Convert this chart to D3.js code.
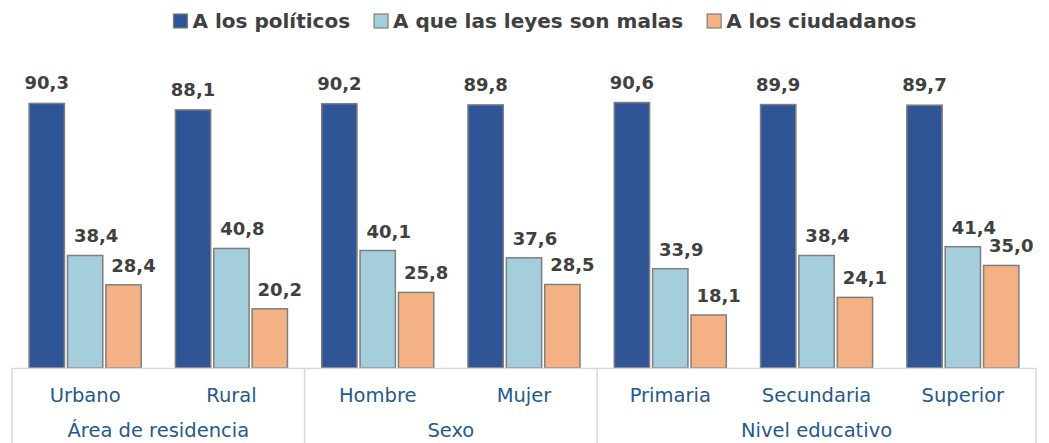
<!DOCTYPE html>
<html>
<head>
<meta charset="utf-8">
<script src="https://cdn.jsdelivr.net/npm/d3@7"></script>
<style>
  html, body { margin: 0; padding: 0; background: #fff; }
  svg { display: block; }
</style>
</head>
<body>
<svg id="chart" width="1049" height="443"></svg>
<script>
const categories = ["Urbano", "Rural", "Hombre", "Mujer", "Primaria", "Secundaria", "Superior"];
const groups = ["Área de residencia", "Sexo", "Nivel educativo"];
const groupCategories = [["Urbano", "Rural"], ["Hombre", "Mujer"], ["Primaria", "Secundaria", "Superior"]];
const seriesNames = ["A los políticos", "A que las leyes son malas", "A los ciudadanos"];
const politicos = [90.3, 88.1, 90.2, 89.8, 90.6, 89.9, 89.7];
const leyesMalas = [38.4, 40.8, 40.1, 37.6, 33.9, 38.4, 41.4];
const ciudadanos = [28.4, 20.2, 25.8, 28.5, 18.1, 24.1, 35.0];
const seriesValues = [politicos, leyesMalas, ciudadanos];

const colors = ["#2F5597", "#A5CEDC", "#F4B183"];
const labelDx = [0, 11, 10];
const fmt = v => d3.format(".1f")(v).replace(".", ",");

const svg = d3.select("#chart");
const left = 12, right = 1036, baseY = 368, topY = 75;

const x = d3.scaleBand().domain(categories).range([left, right])
  .paddingInner(0.234).paddingOuter(0.117);
const xs = d3.scaleBand().domain(seriesNames).range([0, x.bandwidth()]).paddingInner(0.08);
const y = d3.scaleLinear().domain([0, 100]).range([baseY, topY]);

// Bars
seriesNames.forEach((s, si) => {
  const g = svg.append("g");
  g.selectAll("rect").data(categories).join("rect")
    .attr("x", c => x(c) + xs(s))
    .attr("y", (c, i) => y(seriesValues[si][i]))
    .attr("width", xs.bandwidth())
    .attr("height", (c, i) => y(0) - y(seriesValues[si][i]))
    .attr("fill", colors[si])
    .attr("stroke", "#7f7f7f")
    .attr("stroke-width", 1.5);
  g.selectAll("text").data(categories).join("text")
    .attr("x", c => x(c) + xs(s) + xs.bandwidth() / 2 + labelDx[si])
    .attr("y", (c, i) => y(seriesValues[si][i]) - (si === 0 ? 14 : 13))
    .attr("text-anchor", "middle")
    .attr("font-family", "DejaVu Sans, Verdana, sans-serif")
    .attr("font-weight", "bold")
    .attr("font-size", "18px")
    .attr("fill", "#404040")
    .text((c, i) => fmt(seriesValues[si][i]));
});

// Multi-level category axis
const axis = svg.append("g").attr("stroke", "#d9d9d9").attr("stroke-width", 1.5);
axis.append("line").attr("x1", left).attr("x2", right).attr("y1", baseY + 0.5).attr("y2", baseY + 0.5);
const step = x.step();
const bounds = [left];
let idx = 0;
groupCategories.forEach(gc => { idx += gc.length; bounds.push(left + idx * step); });
bounds.forEach(bx => {
  axis.append("line").attr("x1", bx).attr("x2", bx).attr("y1", baseY).attr("y2", 443);
});

svg.append("g").selectAll("text").data(categories).join("text")
  .attr("x", c => x(c) + x.bandwidth() / 2)
  .attr("y", 402)
  .attr("text-anchor", "middle")
  .attr("font-family", "DejaVu Sans, Verdana, sans-serif")
  .attr("font-size", "19.5px")
  .attr("fill", "#255A8C")
  .text(c => c);

svg.append("g").selectAll("text").data(groups).join("text")
  .attr("x", (g, i) => (bounds[i] + bounds[i + 1]) / 2)
  .attr("y", 437)
  .attr("text-anchor", "middle")
  .attr("font-family", "DejaVu Sans, Verdana, sans-serif")
  .attr("font-size", "19.5px")
  .attr("fill", "#255A8C")
  .text(g => g);

// Legend
const legend = svg.append("g");
const items = [];
seriesNames.forEach((s, si) => {
  const it = legend.append("g");
  it.append("rect").attr("x", 0).attr("y", 14).attr("width", 14).attr("height", 14)
    .attr("fill", colors[si]).attr("stroke", "#7f7f7f").attr("stroke-width", 1.2);
  const t = it.append("text").attr("x", 19).attr("y", 28)
    .attr("font-family", "DejaVu Sans, Verdana, sans-serif")
    .attr("font-weight", "bold").attr("font-size", "20px").attr("fill", "#404040")
    .text(s);
  items.push({ g: it, w: 19 + t.node().getComputedTextLength() });
});
const gap = 24;
const total = d3.sum(items, d => d.w) + gap * (items.length - 1);
let lx = 545 - total / 2;
items.forEach(d => { d.g.attr("transform", `translate(${lx},0)`); lx += d.w + gap; });
</script>
</body>
</html>
